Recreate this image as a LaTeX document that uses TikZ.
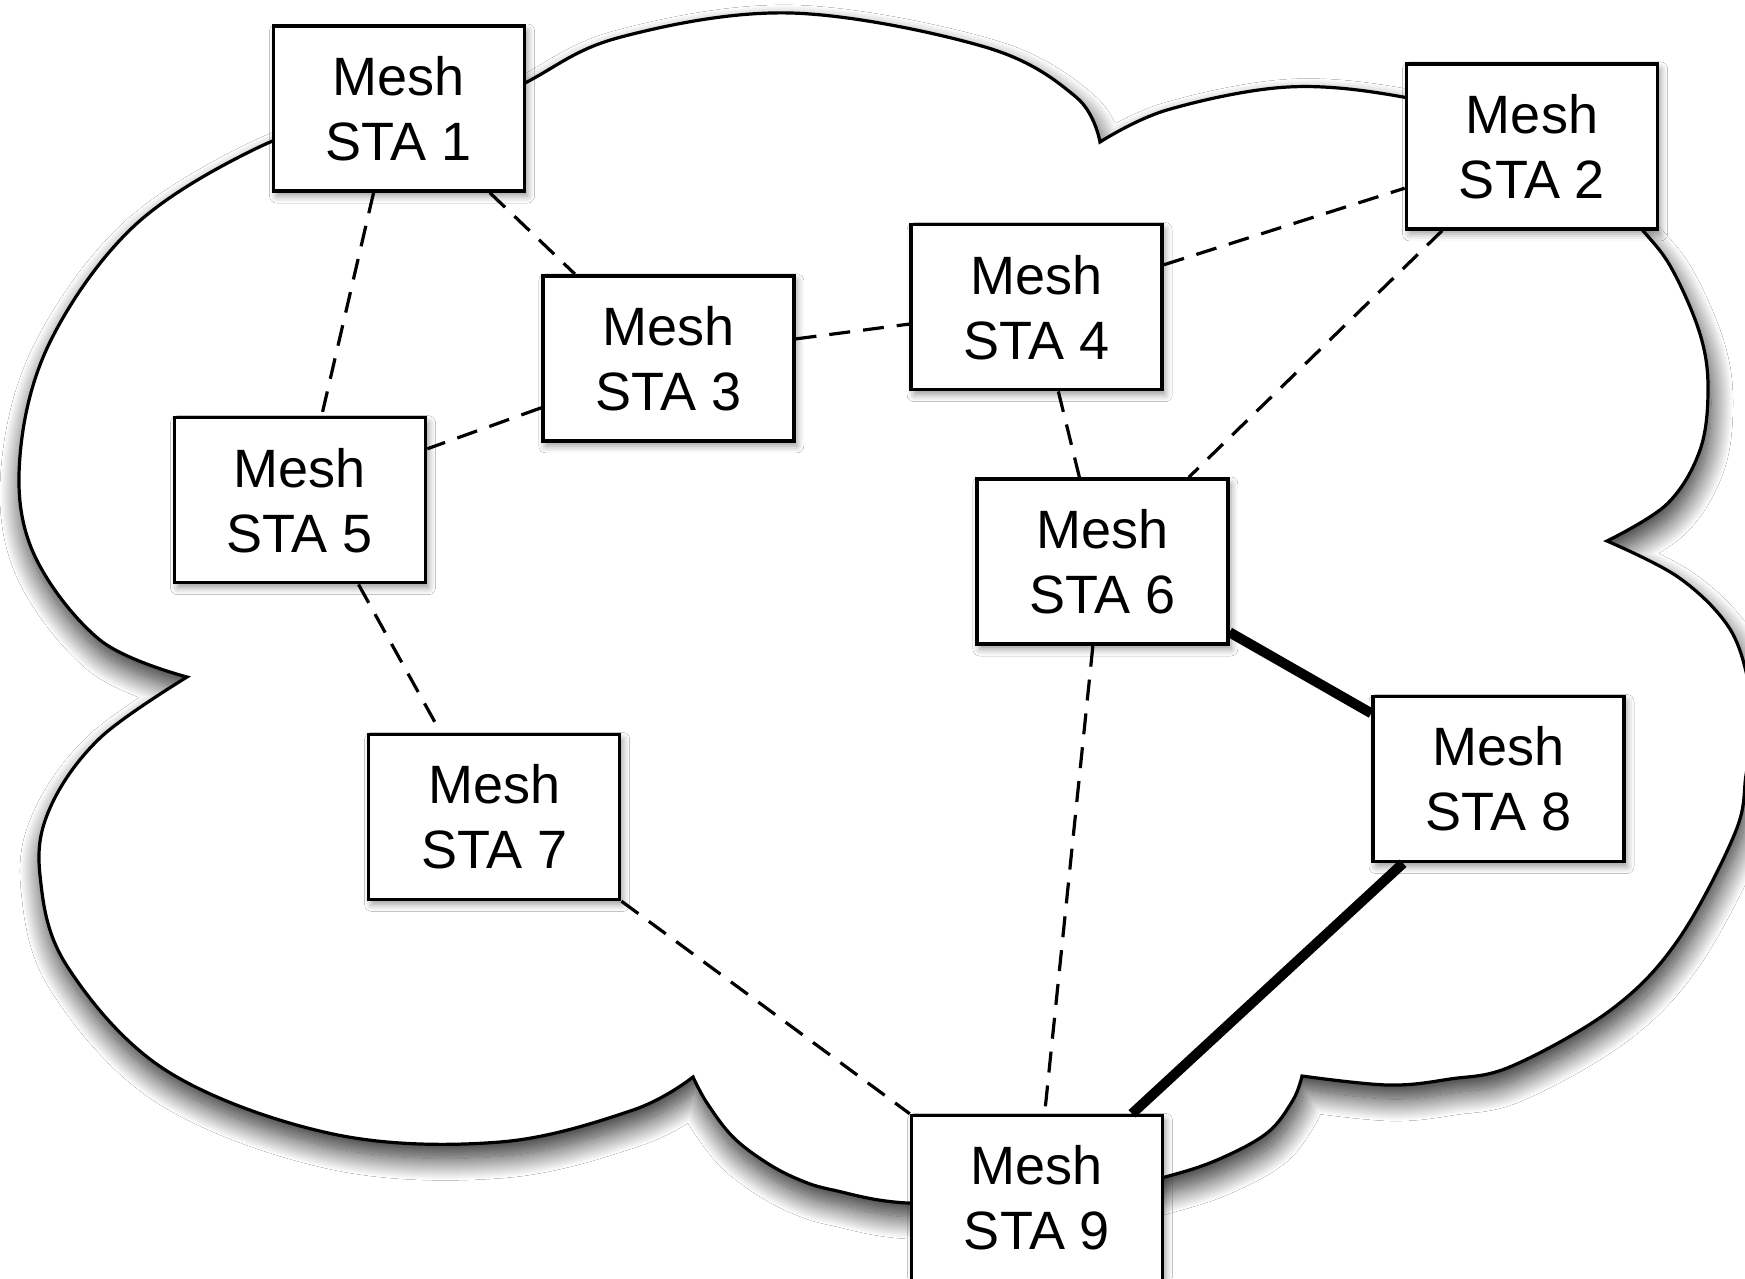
\documentclass[tikz,border=0pt]{standalone}
\usepackage{fontspec}
\setmainfont{Liberation Sans}
\usetikzlibrary{calc,shadows.blur}
\tikzset{
  sta/.style={draw, line width=3.5pt, fill=white, minimum width=251pt, minimum height=165pt,
    align=center, inner sep=0pt, font=\fontsize{54pt}{65pt}\selectfont,
    blur shadow={shadow xshift=3pt, shadow yshift=-5pt, shadow blur radius=7pt, shadow opacity=40}},
  link/.style={line width=3.2pt, dash pattern=on 21pt off 13pt},
  strong/.style={line width=10pt},
  cloudshape/.style={draw, line width=3.2pt, fill=white,
    blur shadow={shadow xshift=3pt, shadow yshift=-14pt, shadow blur radius=22pt, shadow opacity=85, shadow blur steps=30}}
}
\begin{document}
\begin{tikzpicture}[x=1pt,y=-1pt]
\useasboundingbox (0,0) rectangle (1745,1278);
\fill[white] (0,0) rectangle (1745,1278);
% cloud
\path[cloudshape]
  plot[smooth,tension=0.6] coordinates {(187,677) (100,640) (33,552) (20,456) (50,342) (133,227) (253,150) (340,125) (430,138)}
  -- plot[smooth,tension=0.6] coordinates {(430,138) (527,82) (621,37) (791,13) (985,47) (1076,97) (1100,142)}
  -- plot[smooth,tension=0.6] coordinates {(1100,142) (1167,110) (1288,87) (1403,97) (1500,125) (1590,175)}
  -- plot[smooth,tension=0.6] coordinates {(1590,175) (1645,233) (1673,271) (1700,334) (1708,388) (1700,450) (1667,504) (1607,541)}
  -- plot[smooth,tension=0.6] coordinates {(1607,541) (1678,577) (1728,626) (1748,680) (1752,725) (1746,775) (1735,833) (1678,940) (1612,1009) (1512,1066) (1450,1079) (1388,1085) (1302,1076)}
  -- plot[smooth,tension=0.6] coordinates {(1302,1076) (1293,1100) (1267,1133) (1217,1160) (1165,1177) (1100,1192) (1040,1200)}
  -- plot[smooth,tension=0.6] coordinates {(1040,1200) (908,1203) (833,1190) (800,1180) (767,1163) (733,1137) (707,1103) (693,1077)}
  -- plot[smooth,tension=0.6] coordinates {(693,1077) (633,1110) (500,1142) (333,1134) (167,1071) (67,966) (40,875) (50,808) (100,738) (187,677)}
  -- cycle;
% stations
\node[sta] (s1) at (399,108.5) {Mesh\\STA 1};
\node[sta] (s2) at (1532,146.4) {Mesh\\STA 2};
\node[sta] (s3) at (668.3,358.3) {Mesh\\STA 3};
\node[sta] (s4) at (1036.7,307.2) {Mesh\\STA 4};
\node[sta] (s5) at (300,500.2) {Mesh\\STA 5};
\node[sta] (s6) at (1102.3,561.5) {Mesh\\STA 6};
\node[sta] (s7) at (494.2,816.9) {Mesh\\STA 7};
\node[sta] (s8) at (1498.5,779) {Mesh\\STA 8};
\node[sta] (s9) at (1037,1198) {Mesh\\STA 9};
% links
\draw[link] ($(s1.south west)!0.40!(s1.south east)$) -- ($(s5.north west)!0.585!(s5.north east)$);
\draw[link] ($(s1.south west)!0.857!(s1.south east)$) -- ($(s3.north west)!0.133!(s3.north east)$);
\draw[link] ($(s3.north east)!0.385!(s3.south east)$) -- ($(s4.north west)!0.60!(s4.south west)$);
\draw[link] ($(s3.north west)!0.794!(s3.south west)$) -- ($(s5.north east)!0.195!(s5.south east)$);
\draw[link] ($(s4.north east)!0.248!(s4.south east)$) -- ($(s2.north west)!0.748!(s2.south west)$);
\draw[link] ($(s2.south west)!0.147!(s2.south east)$) -- ($(s6.north west)!0.84!(s6.north east)$);
\draw[link] ($(s4.south west)!0.585!(s4.south east)$) -- ($(s6.north west)!0.41!(s6.north east)$);
\draw[link] ($(s5.south west)!0.73!(s5.south east)$) -- ($(s7.north west)!0.29!(s7.north east)$);
\draw[link] (s7.south east) -- (s9.north west);
\draw[link] ($(s6.south west)!0.463!(s6.south east)$) -- ($(s9.north west)!0.53!(s9.north east)$);
\draw[strong] ($(s6.north east)!0.92!(s6.south east)$) -- ($(s8.north west)!0.11!(s8.south west)$);
\draw[strong] ($(s8.south west)!0.125!(s8.south east)$) -- ($(s9.north west)!0.873!(s9.north east)$);
\end{tikzpicture}
\end{document}
